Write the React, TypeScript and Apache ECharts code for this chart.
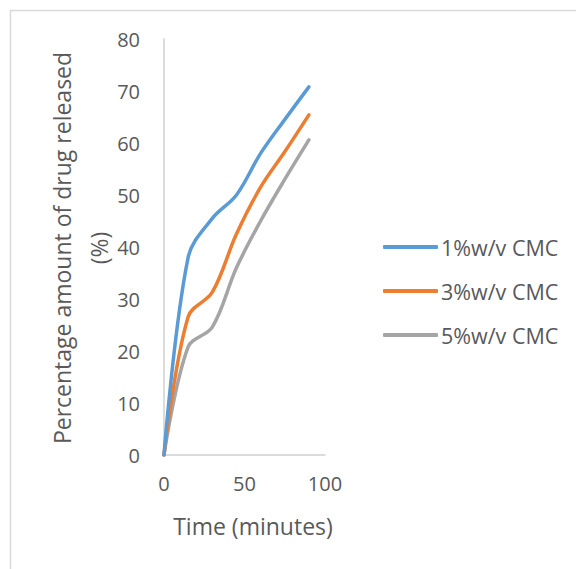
import React, { useEffect, useRef } from "react";
import * as echarts from "echarts";

const timeMinutes = [0, 15, 30, 45, 60, 75, 90];
const cmc1 = [0, 38, 45.5, 50, 58, 64.5, 70.8];
const cmc3 = [0, 26.6, 31.3, 42.5, 51.5, 58.3, 65.4];
const cmc5 = [0, 20.8, 24.6, 36, 45, 53, 60.6];
const seriesNames = ["1%w/v CMC", "3%w/v CMC", "5%w/v CMC"];
const colors = ["#5B9BD5", "#ED7D31", "#A5A5A5"];

const FONT = "'Open Sans', 'Noto Sans', sans-serif";

export default function App() {
  const ref = useRef<HTMLDivElement>(null);
  useEffect(() => {
    if (!ref.current) return;
    const chart = echarts.init(ref.current, undefined, { renderer: "svg" });
    const values = [cmc1, cmc3, cmc5];
    chart.setOption({
      animation: false,
      backgroundColor: "#ffffff",
      textStyle: { fontFamily: FONT },
      grid: { left: 164, top: 39, right: 251, bottom: 114, containLabel: false },
      xAxis: {
        type: "value",
        min: 0,
        max: 100,
        interval: 50,
        axisLine: { show: true, lineStyle: { color: "#d0d0d0", width: 1.5 } },
        axisTick: { show: false },
        splitLine: { show: false },
        axisLabel: { color: "#595959", fontSize: 20, margin: 18, fontFamily: FONT },
      },
      yAxis: {
        type: "value",
        min: 0,
        max: 80,
        interval: 10,
        axisLine: { show: true, lineStyle: { color: "#d0d0d0", width: 1.5 } },
        axisTick: { show: false },
        splitLine: { show: false },
        axisLabel: { color: "#595959", fontSize: 20, margin: 24, fontFamily: FONT },
      },
      legend: {
        orient: "vertical",
        left: 378,
        top: 231,
        itemWidth: 55,
        itemHeight: 4,
        itemGap: 22,
        icon: "roundRect",
        textStyle: { color: "#595959", fontSize: 21.5, fontFamily: FONT, padding: [0, 0, 0, -2] },
        data: seriesNames,
      },
      graphic: [
        {
          type: "rect",
          shape: { x: 10.5, y: 10.5, width: 700, height: 700 },
          style: { fill: "none", stroke: "#d9d9d9", lineWidth: 1.5 },
          silent: true,
        },
        {
          type: "text",
          x: 80,
          y: 248,
          rotation: Math.PI / 2,
          style: {
            text: "Percentage amount of drug released\n(%)",
            fill: "#595959",
            fontSize: 23,
            fontFamily: FONT,
            align: "center",
            verticalAlign: "middle",
            lineHeight: 37,
          },
        },
        {
          type: "text",
          x: 253,
          y: 526,
          style: {
            text: "Time (minutes)",
            fill: "#595959",
            fontSize: 23,
            fontFamily: FONT,
            align: "center",
            verticalAlign: "middle",
          },
        },
      ],
      series: seriesNames.map((name, i) => ({
        name,
        type: "line",
        smooth: 0.35,
        symbol: "none",
        data: timeMinutes.map((t, j) => [t, values[i][j]]),
        lineStyle: { color: colors[i], width: 3.5, cap: "round", join: "round" },
        itemStyle: { color: colors[i] },
        z: 3 - i,
      })),
    });
    return () => chart.dispose();
  }, []);
  return (
    <div
      ref={ref}
      style={{ position: "fixed", left: 0, top: 0, width: 576, height: 569 }}
    />
  );
}
